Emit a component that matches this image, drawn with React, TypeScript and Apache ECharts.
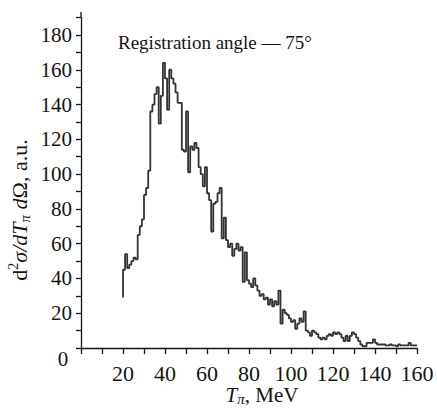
import React, { useEffect, useRef } from "react";
import * as echarts from "echarts";

// Histogram: bins of 1 MeV starting at 20 MeV
const binStart = 20;
const binWidth = 1;
const startFloor = 29; // value where the drawn line begins at T = 20
const counts = [
  45, 54, 46, 48, 50, 52, 51, 65, 70, 74,
  88, 92, 102, 136, 140, 146, 150, 129, 145, 164,
  155, 137, 160, 155, 152, 147, 141, 141, 114, 113,
  136, 101, 116, 114, 118, 115, 104, 100, 93, 104,
  89, 85, 67, 83, 84, 89, 92, 63, 75, 62,
  58, 60, 53, 57, 60, 56, 58, 38, 55, 39,
  37, 35, 40, 36, 33, 30, 31, 28, 29, 25,
  28, 24, 27, 25, 33, 14, 22, 20, 19, 17,
  15, 16, 11, 14, 17, 15, 21, 10, 9, 7,
  10, 9, 8, 6, 5, 6, 5, 7, 8, 7,
  9, 8, 9, 8, 6, 4, 7, 4, 7, 9,
  8, 6, 4, 2, 1, 1, 3, 3, 3, 5,
  3, 2, 2, 2, 2, 1.5, 1.5, 2, 1.5, 1.5,
  1, 2, 1.5, 1.5, 1.5, 1.5, 3, 1.5, 1.5, 1.5,
];
const xTickLabels = [20, 40, 60, 80, 100, 120, 140, 160];
const yTickLabels = [20, 40, 60, 80, 100, 120, 140, 160, 180];

const FONT = '"Liberation Serif", "Times New Roman", serif';
const INK = "#141414";

export default function App() {
  const ref = useRef<HTMLDivElement>(null);
  useEffect(() => {
    if (!ref.current) return;
    const chart = echarts.init(ref.current, undefined, { renderer: "svg" });
    const pts: number[][] = [[binStart, startFloor]];
    counts.forEach((v, i) => pts.push([binStart + i * binWidth, v]));
    pts.push([binStart + counts.length * binWidth, counts[counts.length - 1]]);

    chart.setOption({
      animation: false,
      backgroundColor: "#ffffff",
      grid: { left: 81, right: 20, top: 17.6, bottom: 62, containLabel: false },
      xAxis: {
        type: "value",
        min: 0,
        max: 160,
        interval: 10,
        splitLine: { show: false },
        axisLine: { show: true, lineStyle: { color: INK, width: 1.3 } },
        axisTick: { show: true, inside: false, length: 6, lineStyle: { color: INK, width: 1.3 } },
        axisLabel: {
          margin: 25,
          fontFamily: FONT,
          fontSize: 22,
          color: INK,
          verticalAlign: "middle",
          formatter: (v: number) => (xTickLabels.includes(v) ? String(v) : ""),
        },
      },
      yAxis: {
        type: "value",
        min: 0,
        max: 190,
        interval: 10,
        splitLine: { show: false },
        axisLine: { show: true, lineStyle: { color: INK, width: 1.3 } },
        axisTick: { show: true, inside: false, length: 5, lineStyle: { color: INK, width: 1.3 } },
        axisLabel: {
          margin: 9,
          fontFamily: FONT,
          fontSize: 21,
          color: INK,
          formatter: (v: number) => (yTickLabels.includes(v) ? String(v) : ""),
        },
      },
      series: [
        {
          type: "line",
          step: "end",
          data: pts,
          showSymbol: false,
          symbol: "none",
          lineStyle: { color: "#333333", width: 1.8 },
        },
      ],
      graphic: [
        {
          type: "line",
          shape: { x1: 81, y1: 12, x2: 81, y2: 18 },
          style: { stroke: INK, lineWidth: 1.3 },
        },
        {
          type: "text",
          x: 63,
          y: 359,
          style: {
            text: "0",
            font: `21px ${FONT}`,
            fill: INK,
            align: "center",
            verticalAlign: "middle",
          },
        },
        {
          type: "text",
          x: 118,
          y: 42,
          style: {
            text: "Registration angle \u2014 75\u00b0",
            font: `19px ${FONT}`,
            fill: INK,
            align: "left",
            verticalAlign: "middle",
          },
        },
        {
          type: "text",
          x: 262,
          y: 395,
          style: {
            text: "{i|T}{sub|\u03c0}{a|, MeV}",
            align: "center",
            verticalAlign: "middle",
            fill: INK,
            rich: {
              i: { fontFamily: FONT, fontSize: 21, fontStyle: "italic", fill: INK },
              sub: { fontFamily: FONT, fontSize: 15, fontStyle: "italic", fill: INK, padding: [8, 0, 0, 0] },
              a: { fontFamily: FONT, fontSize: 21, fill: INK },
            },
          },
        },
        {
          type: "text",
          x: 19,
          y: 210,
          rotation: Math.PI / 2,
          style: {
            text: "{a|d}{sup|2}{i|\u03c3/dT}{sub|\u03c0}{i| d}{a|\u03a9, a.u.}",
            align: "center",
            verticalAlign: "middle",
            fill: INK,
            rich: {
              a: { fontFamily: FONT, fontSize: 22, fill: INK },
              i: { fontFamily: FONT, fontSize: 22, fontStyle: "italic", fill: INK },
              sup: { fontFamily: FONT, fontSize: 14, fill: INK, padding: [0, 0, 11, 0] },
              sub: { fontFamily: FONT, fontSize: 15, fontStyle: "italic", fill: INK, padding: [11, 0, 0, 0] },
            },
          },
        },
      ],
    });
    return () => chart.dispose();
  }, []);
  return (
    <div
      ref={ref}
      style={{ width: 437, height: 410, position: "absolute", left: 0, top: 0, background: "#fff" }}
    />
  );
}
